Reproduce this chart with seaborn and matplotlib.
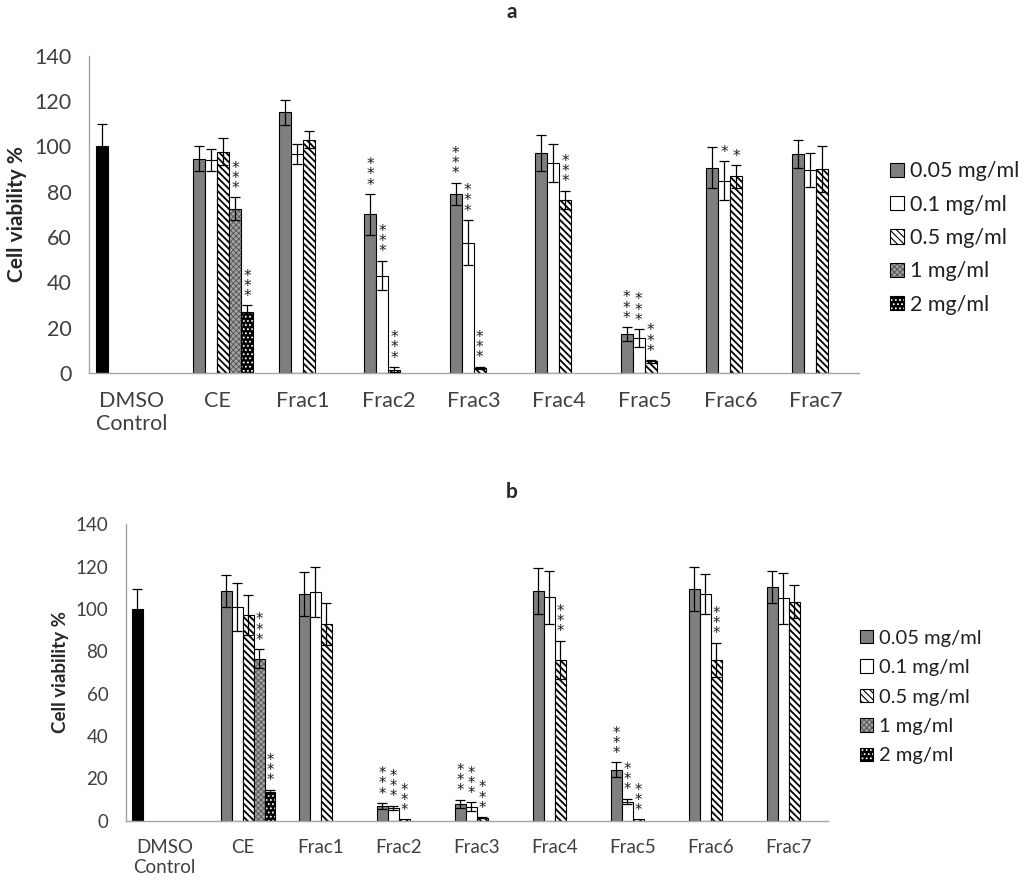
import numpy as np
import pandas as pd
import matplotlib.pyplot as plt
import seaborn as sns
from matplotlib.patches import Patch
from matplotlib.colors import to_rgba

nan = np.nan

categories = ['DMSO\nControl', 'CE', 'Frac1', 'Frac2', 'Frac3',
              'Frac4', 'Frac5', 'Frac6', 'Frac7']
concentrations = ['DMSO Control', '0.05 mg/ml', '0.1 mg/ml',
                  '0.5 mg/ml', '1 mg/ml', '2 mg/ml']

# ---- panel a : values, errors, significance ----
a_dmso = [100, nan, nan, nan, nan, nan, nan, nan, nan]
a_005 = [nan, 94.5, 115, 70, 79, 97, 17.2, 90.6, 96.6]
a_01 = [nan, 94, 96.6, 43, 57.5, 92.6, 15.3, 84.9, 89.4]
a_05 = [nan, 97.6, 103, 1.5, 2.2, 76.5, 5.1, 86.8, 90]
a_1 = [nan, 72.5, nan, nan, nan, nan, nan, nan, nan]
a_2 = [nan, 26.8, nan, nan, nan, nan, nan, nan, nan]

a_dmso_err = [10, 0, 0, 0, 0, 0, 0, 0, 0]
a_005_err = [0, 5.5, 5.5, 9, 5, 8, 3, 9, 6]
a_01_err = [0, 5, 4.5, 6.5, 10, 8.4, 4, 8.5, 7.5]
a_05_err = [0, 6, 3.7, 1.1, 0.5, 4, 0.5, 5, 10]
a_1_err = [0, 5, 0, 0, 0, 0, 0, 0, 0]
a_2_err = [0, 3, 0, 0, 0, 0, 0, 0, 0]

a_dmso_sig = ['', '', '', '', '', '', '', '', '']
a_005_sig = ['', '', '', '***', '***', '', '***', '', '']
a_01_sig = ['', '', '', '***', '***', '', '***', '*', '']
a_05_sig = ['', '', '', '***', '***', '***', '***', '*', '']
a_1_sig = ['', '***', '', '', '', '', '', '', '']
a_2_sig = ['', '***', '', '', '', '', '', '', '']

# ---- panel b : values, errors, significance ----
b_dmso = [100, nan, nan, nan, nan, nan, nan, nan, nan]
b_005 = [nan, 108.5, 107, 6.9, 7.9, 108.5, 24, 109.6, 110.5]
b_01 = [nan, 101.1, 108, 6.1, 6.6, 105.5, 9, 107, 105]
b_05 = [nan, 97, 93, 0.6, 1.4, 76, 0.6, 76, 103.5]
b_1 = [nan, 76.5, nan, nan, nan, nan, nan, nan, nan]
b_2 = [nan, 13.7, nan, nan, nan, nan, nan, nan, nan]

b_dmso_err = [9.6, 0, 0, 0, 0, 0, 0, 0, 0]
b_005_err = [0, 7.4, 10.4, 1.5, 2, 11, 3.5, 10.4, 7.5]
b_01_err = [0, 11.3, 12, 1, 2, 12.6, 1.3, 9.4, 12]
b_05_err = [0, 9.5, 10, 0, 0.3, 9, 0, 8, 8]
b_1_err = [0, 4.5, 0, 0, 0, 0, 0, 0, 0]
b_2_err = [0, 1, 0, 0, 0, 0, 0, 0, 0]

b_dmso_sig = ['', '', '', '', '', '', '', '', '']
b_005_sig = ['', '', '', '***', '***', '', '***', '', '']
b_01_sig = ['', '', '', '***', '***', '', '***', '', '']
b_05_sig = ['', '', '', '***', '***', '***', '***', '***', '']
b_1_sig = ['', '***', '', '', '', '', '', '', '']
b_2_sig = ['', '***', '', '', '', '', '', '', '']

# fill style per concentration: face, hatch, hatch colour, hatch width
styles = {
    'DMSO Control': ('black', None, 'black', 0.8),
    '0.05 mg/ml': ('#7f7f7f', None, 'black', 0.8),
    '0.1 mg/ml': ('white', None, 'black', 0.8),
    '0.5 mg/ml': ('white', '\\' * 5, 'black', 1.3),
    '1 mg/ml': ('#a4a4a4', 'xxxxxx', '#5a5a5a', 0.7),
    '2 mg/ml': ('black', '....', 'white', 0.8),
}


def make_frame(values, errors, sigs):
    rows = []
    for conc, vals, errs, ss in zip(concentrations, values, errors, sigs):
        for cat, v, e, s in zip(categories, vals, errs, ss):
            if not np.isnan(v):
                rows.append({'category': cat, 'concentration': conc,
                             'value': v, 'err': e, 'sig': s})
    return pd.DataFrame(rows)


def set_hatch(p, hatch, color, width):
    if hatch:
        p.set_hatch(hatch)
    if hasattr(p, 'set_hatchcolor'):
        p.set_hatchcolor(color)
    else:
        p._hatch_color = to_rgba(color)
    if hasattr(p, 'set_hatch_linewidth'):
        p.set_hatch_linewidth(width)


def style_patch(p, conc):
    face, hatch, hc, hw = styles[conc]
    p.set_facecolor(face)
    p.set_edgecolor('black')
    p.set_linewidth(0.8)
    set_hatch(p, hatch, hc, hw)


def draw_panel(ax, df, fs_tick, fs_label, fs_star):
    sns.barplot(data=df, x='category', y='value', hue='concentration',
                order=categories, hue_order=concentrations,
                palette={c: styles[c][0] for c in concentrations},
                width=0.84, saturation=1, errorbar=None, legend=False,
                edgecolor='black', linewidth=0.8, ax=ax)
    nh = len(concentrations)
    bw = 0.84 / nh
    for p in list(ax.patches):
        cx = p.get_x() + p.get_width() / 2
        ci = int(round(cx))
        slot = int(round((cx - ci + 0.42 - bw / 2) / bw))
        conc = concentrations[slot]
        style_patch(p, conc)
        row = df[(df['category'] == categories[ci]) &
                 (df['concentration'] == conc)].iloc[0]
        if row['err'] > 0:
            ax.errorbar(cx, row['value'], yerr=row['err'], fmt='none',
                        ecolor='black', elinewidth=0.9, capsize=3.5,
                        capthick=0.9, zorder=3)
        if row['sig']:
            ax.annotate('\n'.join(row['sig']),
                        (cx, row['value'] + row['err']),
                        xytext=(0, 1), textcoords='offset points',
                        ha='center', va='bottom', fontsize=fs_star,
                        linespacing=0.6, color='#1a1a1a',
                        family='DejaVu Sans')

    ax.set_xlim(-0.5, 8.5)
    ax.set_ylim(0, 140)
    ax.set_yticks(range(0, 141, 20))
    for s in ['top', 'right']:
        ax.spines[s].set_visible(False)
    for s in ['left', 'bottom']:
        ax.spines[s].set_color('#a6a6a6')
        ax.spines[s].set_linewidth(1)
    ax.tick_params(axis='y', length=5.5, width=1, color='#a6a6a6',
                   labelsize=fs_tick, labelcolor='#404040', pad=7)
    ax.tick_params(axis='x', length=0, labelsize=fs_tick,
                   labelcolor='#404040', pad=13)
    ax.set_xlabel('')
    ax.set_ylabel('Cell viability %', fontsize=fs_label,
                  fontweight='bold', labelpad=5)


def legend_handles():
    hs = []
    for c in concentrations[1:]:
        face, hatch, hc, hw = styles[c]
        h = Patch(facecolor=face, edgecolor='black', linewidth=0.8, label=c)
        set_hatch(h, hatch, hc, hw)
        hs.append(h)
    return hs


sns.set_style("white")
plt.rcParams['font.family'] = ['Lato', 'DejaVu Sans']
plt.rcParams['hatch.linewidth'] = 0.8

df_a = make_frame([a_dmso, a_005, a_01, a_05, a_1, a_2],
                  [a_dmso_err, a_005_err, a_01_err, a_05_err, a_1_err, a_2_err],
                  [a_dmso_sig, a_005_sig, a_01_sig, a_05_sig, a_1_sig, a_2_sig])
df_b = make_frame([b_dmso, b_005, b_01, b_05, b_1, b_2],
                  [b_dmso_err, b_005_err, b_01_err, b_05_err, b_1_err, b_2_err],
                  [b_dmso_sig, b_005_sig, b_01_sig, b_05_sig, b_1_sig, b_2_sig])

fig = plt.figure(figsize=(10.24, 8.88), dpi=100)
ax_a = fig.add_axes([89 / 1024, 0.58, 769.5 / 1024, 0.3573])
ax_b = fig.add_axes([125.7 / 1024, 0.0758, 702 / 1024, 0.3338])

draw_panel(ax_a, df_a, 15.5, 15, 11)
draw_panel(ax_b, df_b, 13.5, 13.5, 10.5)

fig.text(0.5, 1 - 12 / 888, 'a', ha='center', va='center',
         fontsize=15, fontweight='bold')
fig.text(0.5, 1 - 492 / 888, 'b', ha='center', va='center',
         fontsize=15, fontweight='bold')

fig.legend(handles=legend_handles(), loc='center left',
           bbox_to_anchor=(890 / 1024, 1 - 238 / 888), frameon=False,
           borderpad=0, borderaxespad=0, handlelength=0.65,
           handleheight=0.65, handletextpad=0.3, labelspacing=0.62,
           fontsize=15.5, labelcolor='#202020')
fig.legend(handles=legend_handles(), loc='center left',
           bbox_to_anchor=(860 / 1024, 1 - 697 / 888), frameon=False,
           borderpad=0, borderaxespad=0, handlelength=0.65,
           handleheight=0.65, handletextpad=0.3, labelspacing=0.62,
           fontsize=14.5, labelcolor='#202020')

fig.savefig('out.png', dpi=100)
